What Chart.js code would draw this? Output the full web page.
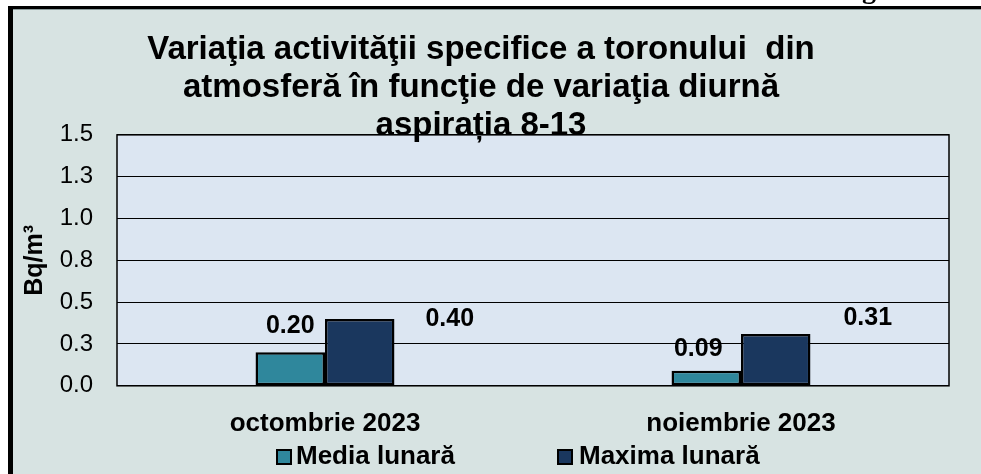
<!DOCTYPE html>
<html>
<head>
<meta charset="utf-8">
<script src="https://cdn.jsdelivr.net/npm/chart.js@4.4.0/dist/chart.umd.min.js"></script>
<style>
    html, body { margin: 0; padding: 0; background: #fff; overflow: hidden; }
    #wrap { position: relative; width: 981px; height: 474px; }
    #chart { position: absolute; left: 0; top: 0; }
    #cut { position: absolute; left: 862px; top: -25px; font: bold 28px 'Liberation Serif', serif; line-height: 1; color: #000; z-index: 2; }
</style>
</head>
<body>
<div id="wrap">
    <canvas id="chart" width="981" height="474"></canvas>
    <div id="cut">g</div>
</div>
<script>
// Chart data
const categories = ['octombrie 2023', 'noiembrie 2023'];
const seriesNames = ['Media lunară', 'Maxima lunară'];
const mediaLunara = [0.20, 0.09];
const maximaLunara = [0.40, 0.31];
const yTickLabels = ['0.0', '0.3', '0.5', '0.8', '1.0', '1.3', '1.5'];
const titleLines = [
    'Variaţia activităţii specifice a toronului  din',
    'atmosferă în funcţie de variaţia diurnă',
    'aspirația 8-13'
];
const yAxisTitle = 'Bq/m³';

const colors = ['#2f879c', '#1a375e'];

// label placement relative to the top of each bar (dx, dy)
const labelOffsets = [
    [[0, -26], [-8, -22]],
    [[90, 0], [92, -16]]
];

Chart.defaults.font.family = "'Liberation Sans', Arial, sans-serif";
Chart.defaults.color = '#000';

const framePlugin = {
    id: 'frame',
    beforeDraw(chart) {
        const ctx = chart.ctx;
        const a = chart.chartArea;
        ctx.save();
        ctx.fillStyle = '#ffffff';
        ctx.fillRect(0, 0, chart.width, chart.height);
        // panel
        ctx.fillStyle = '#d7e3e2';
        ctx.fillRect(13, 9, chart.width - 13, chart.height - 9);
        ctx.fillStyle = '#000';
        ctx.fillRect(8, 6, 5, chart.height - 6);
        ctx.fillRect(8, 6, chart.width - 8, 3);
        ctx.fillStyle = '#8c9c9c';
        ctx.fillRect(13, 9, chart.width - 13, 1);
        // plot area
        ctx.fillStyle = '#dce6f2';
        ctx.fillRect(a.left, a.top, a.right - a.left, a.bottom - a.top);
        ctx.restore();
    },
    beforeDatasetsDraw(chart) {
        const ctx = chart.ctx;
        const a = chart.chartArea;
        ctx.save();
        ctx.strokeStyle = '#000';
        ctx.lineWidth = 1.5;
        ctx.strokeRect(a.left, a.top, a.right - a.left, a.bottom - a.top);
        ctx.restore();
    },
    afterDatasetsDraw(chart) {
        const ctx = chart.ctx;
        ctx.save();
        ctx.font = "bold 25px 'Liberation Sans', Arial, sans-serif";
        ctx.fillStyle = '#000';
        ctx.textAlign = 'center';
        ctx.textBaseline = 'middle';
        chart.data.datasets.forEach((ds, i) => {
            chart.getDatasetMeta(i).data.forEach((bar, j) => {
                const off = labelOffsets[i][j];
                ctx.fillText(ds.data[j].toFixed(2), bar.x + off[0], bar.y + off[1]);
            });
        });

        // legend
        const items = [
            { box: 277, text: 296 },
            { box: 558, text: 579 }
        ];
        const cy = 457;
        ctx.font = "bold 26px 'Liberation Sans', Arial, sans-serif";
        ctx.textAlign = 'left';
        chart.data.datasets.forEach((ds, i) => {
            ctx.fillStyle = ds.backgroundColor;
            ctx.fillRect(items[i].box, cy - 7, 14, 14);
            ctx.strokeStyle = '#000';
            ctx.lineWidth = 2;
            ctx.strokeRect(items[i].box, cy - 7, 14, 14);
            ctx.fillStyle = '#000';
            ctx.fillText(ds.label, items[i].text, cy);
        });
        ctx.restore();
    }
};

new Chart(document.getElementById('chart'), {
    type: 'bar',
    data: {
        labels: categories,
        datasets: [
            {
                label: seriesNames[0],
                data: mediaLunara,
                backgroundColor: colors[0],
                borderColor: '#000',
                borderWidth: 2.5,
                borderSkipped: false,
                categoryPercentage: 0.334,
                barPercentage: 1
            },
            {
                label: seriesNames[1],
                data: maximaLunara,
                backgroundColor: colors[1],
                borderColor: '#000',
                borderWidth: 2.5,
                borderSkipped: false,
                categoryPercentage: 0.334,
                barPercentage: 1
            }
        ]
    },
    options: {
        responsive: false,
        animation: false,
        layout: {
            padding: { left: 13, right: 32, top: 10, bottom: 21 }
        },
        scales: {
            x: {
                grid: { display: false },
                border: { display: false },
                ticks: {
                    padding: 14,
                    font: { size: 26, weight: 'bold' }
                }
            },
            y: {
                min: 0,
                max: 1.5,
                afterFit(scale) { scale.width = 104; },
                ticks: {
                    stepSize: 0.25,
                    padding: 24,
                    font: { size: 24 },
                    callback: (value, index) => yTickLabels[index]
                },
                grid: { color: '#000', lineWidth: 1, drawTicks: false },
                border: { display: false },
                title: {
                    display: true,
                    text: yAxisTitle,
                    padding: { top: 7, bottom: 0 },
                    font: { size: 25, weight: 'bold' }
                }
            }
        },
        plugins: {
            legend: { display: false },
            tooltip: { enabled: false },
            title: {
                display: true,
                text: titleLines,
                color: '#000',
                font: { size: 33, weight: 'bold', lineHeight: 1.15 },
                padding: { top: 21, bottom: -10 }
            }
        }
    },
    plugins: [framePlugin]
});
</script>
</body>
</html>
